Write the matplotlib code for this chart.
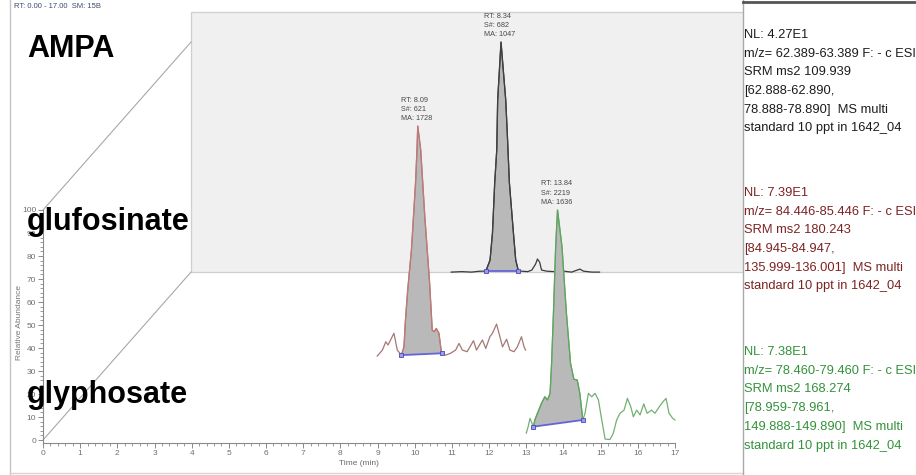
import numpy as np
import matplotlib
matplotlib.use("Agg")
import matplotlib.pyplot as plt
import matplotlib.transforms as mtransforms
from matplotlib.patches import Rectangle
from matplotlib.lines import Line2D
from matplotlib.ticker import MultipleLocator
from matplotlib import font_manager as fm

# ---------------------------------------------------------------- data
# Chromatogram traces: retention time (min) and relative abundance (%)
ampa_time = [7.00, 7.28, 7.55, 7.77, 7.93, 8.045, 8.11, 8.17, 8.225, 8.25, 8.34,
             8.467, 8.507, 8.566, 8.674, 8.736, 8.81, 8.90, 9.06, 9.17, 9.27,
             9.32, 9.38, 9.43, 9.57, 9.78, 10.03, 10.24, 10.46, 10.56, 10.78, 10.99]
ampa_abund = [0.0, 0.2, 0.0, 0.4, 0.4, 5.2, 17.0, 38.7, 53.0, 74.8, 100.0,
              74.8, 61.0, 38.7, 17.0, 5.2, 0.4, 0.4, 0.2, 0.9, 3.5,
              5.7, 4.3, 0.9, 0.4, 0.2, 0.4, 0.0, 1.3, 0.4, 0.0, 0.0]

gluf_time = [7.00, 7.14, 7.23, 7.29, 7.45, 7.54, 7.65, 7.72, 7.76, 7.82, 7.92,
             8.03, 8.07, 8.09, 8.17, 8.28, 8.41, 8.46, 8.48, 8.53, 8.59, 8.66,
             8.73, 8.84, 8.97, 9.11, 9.20, 9.29, 9.42, 9.59, 9.67, 9.83, 9.92,
             10.03, 10.10, 10.21, 10.30, 10.37, 10.48, 10.57, 10.68, 10.77,
             10.88, 10.95, 10.99]
gluf_abund = [0.0, 2.6, 6.2, 4.8, 9.9, 2.6, 0.4, 4.0, 15.7, 28.7, 46.0,
              75.0, 89.6, 100.0, 89.6, 60.6, 31.6, 17.1, 11.3, 10.6, 12.0, 9.9,
              1.2, 0.4, 1.2, 2.6, 5.5, 2.6, 1.9, 6.7, 2.6, 7.0, 3.3,
              8.4, 9.9, 13.9, 8.4, 4.0, 7.3, 2.6, 1.9, 4.0,
              8.4, 4.0, 2.6]

glyph_time = [13.00, 13.05, 13.10, 13.19, 13.23, 13.30, 13.41, 13.50, 13.57,
              13.64, 13.68, 13.73, 13.79, 13.84, 13.96, 14.08, 14.19, 14.28,
              14.37, 14.44, 14.52, 14.58, 14.67, 14.76, 14.85, 14.94, 15.03,
              15.12, 15.25, 15.34, 15.43, 15.52, 15.63, 15.72, 15.81, 15.88,
              15.97, 16.06, 16.16, 16.25, 16.37, 16.46, 16.58, 16.68, 16.76,
              16.84, 16.94, 17.00]
glyph_abund = [3.0, 5.8, 9.4, 5.8, 8.7, 11.6, 16.0, 18.8, 17.4,
               20.3, 33.3, 55.0, 84.0, 100.0, 84.0, 55.0, 33.3, 26.4,
               26.1, 20.3, 8.7, 11.6, 20.3, 18.8, 20.3, 17.4, 8.7,
               0.4, 0.2, 2.9, 8.7, 11.6, 13.0, 18.1, 14.5, 10.1,
               13.0, 10.9, 15.7, 11.6, 13.0, 11.6, 14.5, 16.7, 18.1,
               11.6, 9.4, 8.7]

# stacking order: front to back
compounds = ["glyphosate", "glufosinate", "AMPA"]
traces_time = [glyph_time, gluf_time, ampa_time]
traces_abund = [glyph_abund, gluf_abund, ampa_abund]

# peak annotations
peak_rt = [13.84, 8.09, 8.34]
peak_scan = [2219, 621, 682]
peak_area = [1636, 1728, 1047]
# integration window of each peak (min)
int_start = [13.19, 7.65, 7.93]
int_end = [14.52, 8.73, 8.81]

# scan filter descriptions
filter_text = [
    ["NL: 7.38E1", "m/z= 78.460-79.460 F: - c ESI", "SRM ms2 168.274",
     "[78.959-78.961,", "149.888-149.890]  MS multi", "standard 10 ppt in 1642_04"],
    ["NL: 7.39E1", "m/z= 84.446-85.446 F: - c ESI", "SRM ms2 180.243",
     "[84.945-84.947,", "135.999-136.001]  MS multi", "standard 10 ppt in 1642_04"],
    ["NL: 4.27E1", "m/z= 62.389-63.389 F: - c ESI", "SRM ms2 109.939",
     "[62.888-62.890,", "78.888-78.890]  MS multi", "standard 10 ppt in 1642_04"],
]
header = "RT: 0.00 - 17.00  SM: 15B"

# ---------------------------------------------------------------- style
W, H = 916, 475
trace_colors = ["#72b072", "#a57775", "#3a3a3a"]
edge_colors = ["#5fa55f", "#c07a78", "#404040"]
text_colors = ["#33923a", "#7d2222", "#1c1c1c"]
label_y = [403, 230, 57]          # baselines of the big compound names (px)
block_top = [352, 193, 35]        # first line of each filter description (px)
line_step = 18.7

names = {f.name for f in fm.fontManager.ttflist}
BASE = "Liberation Sans"
if "Liberation Sans Narrow" in names:
    NARROW, narrow_size = "Liberation Sans Narrow", 11.0
else:
    NARROW, narrow_size = BASE, 9.3

plt.rcParams["font.family"] = [BASE, "DejaVu Sans"]

fig = plt.figure(figsize=(W / 100, H / 100), dpi=100)
fig.patch.set_facecolor("white")


def fx(x):
    return x / W


def fy(y):
    return 1 - y / H


# front plane axes: 0-17 min, 0-100 %
ax = fig.add_axes([fx(43), fy(443), 632 / W, 233 / H])
ax.patch.set_visible(False)

# depth offset between stacked traces (min, %)
DX, DY = 1.99, 36.5


def depth(k):
    return mtransforms.Affine2D().translate(k * DX, k * DY) + ax.transData


# back wall behind the last trace
wall = Rectangle((0, 0), 17, 113, transform=depth(2), facecolor="#f0f0f0",
                 edgecolor="#cfcfcf", lw=0.9, zorder=0)
ax.add_patch(wall)
wall.set_clip_path(Rectangle((0, 0), fx(743), 1, transform=fig.transFigure))

# depth guide lines from the front plane to the back wall
for yv in (0, 100):
    ax.plot([0, 2 * DX], [yv, yv + 2 * DY], color="#a8a8a8", lw=0.8,
            clip_on=False, zorder=1)

for k in range(3):
    t = np.asarray(traces_time[k], float)
    a = np.asarray(traces_abund[k], float)
    tr = depth(k)
    z = 5 - k
    # integrated peak area
    m = (t >= int_start[k] - 1e-9) & (t <= int_end[k] + 1e-9)
    b0, b1 = np.interp([int_start[k], int_end[k]], t, a)
    ax.fill(np.r_[t[m], int_end[k], int_start[k]], np.r_[a[m], b1, b0],
            facecolor="#b9b9b9", edgecolor="none", transform=tr,
            clip_on=False, zorder=z)
    ax.plot(t, a, color=trace_colors[k], lw=0.9, transform=tr,
            solid_joinstyle="round", clip_on=False, zorder=z + 0.1)
    ax.plot(t[m], a[m], color=edge_colors[k], lw=0.9, transform=tr,
            solid_joinstyle="round", clip_on=False, zorder=z + 0.2)
    # integration baseline
    ax.plot([int_start[k], int_end[k]], [b0, b1], color="#6464d8", lw=1.3,
            marker="s", ms=3, mfc="#9a9af0", mec="#4848c0", mew=0.6,
            transform=tr, clip_on=False, zorder=z + 0.3)
    # peak label
    lab_tr = tr + mtransforms.ScaledTranslation(-17 / 100, 4 / 100,
                                                fig.dpi_scale_trans)
    ax.text(peak_rt[k], 100, f"RT: {peak_rt[k]:.2f}\nS#: {peak_scan[k]}\nMA: {peak_area[k]}",
            transform=lab_tr, ha="left", va="bottom", fontsize=5.2,
            linespacing=1.45, color="#474747", clip_on=False, zorder=10)

# axes styling
ax.set_xlim(0, 17)
ax.set_ylim(-1.3, 100)
ax.set_xticks(range(0, 18))
ax.set_yticks(range(0, 101, 10))
ax.xaxis.set_minor_locator(MultipleLocator(0.2))
ax.yaxis.set_minor_locator(MultipleLocator(2))
for s in ("top", "right"):
    ax.spines[s].set_visible(False)
for s in ("left", "bottom"):
    ax.spines[s].set_color("#8a8a8a")
    ax.spines[s].set_linewidth(0.8)
ax.tick_params(which="major", length=3.6, width=0.7, color="#8a8a8a",
               labelsize=6, labelcolor="#707070", pad=1.2)
ax.tick_params(which="minor", length=2.2, width=0.6, color="#8a8a8a")
ax.set_xlabel("Time (min)", fontsize=6, color="#6a6a6a", labelpad=2.5)
fig.text(fx(20), fy(322), "Relative Abundance", rotation=90, fontsize=6,
         color="#777777", ha="center", va="center")

# big compound names
for k in range(3):
    fig.text(fx(27), fy(label_y[k]), compounds[k], fontsize=22,
             fontweight="bold", color="black", ha="left", va="baseline",
             zorder=20)

fig.text(fx(14), fy(6), header, fontsize=5.5, color="#3c4b6e",
         ha="left", va="center")

# scan filter descriptions
for k in range(3):
    for i, line in enumerate(filter_text[k]):
        fig.text(fx(744), fy(block_top[k] + i * line_step), line,
                 fontsize=narrow_size, family=[NARROW, "DejaVu Sans"],
                 color=text_colors[k], ha="left", va="center")

# frame and panel divider
fig.add_artist(Line2D([fx(10), fx(10)], [0, 1], color="#c4c4c4", lw=1))
fig.add_artist(Line2D([fx(10), fx(743)], [fy(473), fy(473)], color="#d6d6d6", lw=1))
fig.add_artist(Line2D([fx(743), fx(743)], [0, 1], color="#a9a9a9", lw=1))
fig.add_artist(Line2D([fx(743), 1], [fy(2), fy(2)], color="#555555", lw=2))

fig.savefig("out.png", dpi=100)
